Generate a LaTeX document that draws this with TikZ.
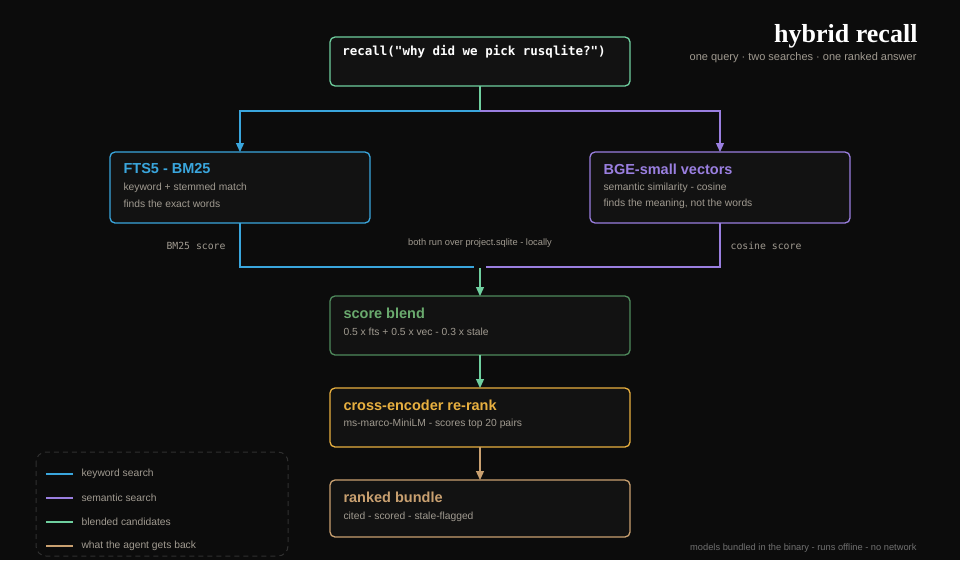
\documentclass[tikz,border=0pt]{standalone}
\usepackage{fontspec}
\setmainfont{Liberation Sans}
\setmonofont{DejaVu Sans Mono}
\newfontfamily\titlefont{Liberation Serif}
\usetikzlibrary{arrows.meta}
\definecolor{bg}{HTML}{0C0C0C}
\definecolor{boxbg}{HTML}{121212}
\definecolor{cgreen}{HTML}{6FCF9F}
\definecolor{cblue}{HTML}{3AA6DD}
\definecolor{cpurple}{HTML}{9A7FE0}
\definecolor{cdgreen}{HTML}{4F8A5C}
\definecolor{tgreen}{HTML}{6AAA6E}
\definecolor{corange}{HTML}{E8B040}
\definecolor{ctan}{HTML}{C9A070}
\definecolor{cgray}{HTML}{A09A90}
\definecolor{cdim}{HTML}{707070}
\begin{document}
\begin{tikzpicture}[x=1pt,y=-1pt,
  box/.style={line width=1.3pt,rounded corners=5pt,fill=boxbg},
  ttl/.style={anchor=west,font=\fontsize{14.5}{16}\selectfont\bfseries},
  sub/.style={anchor=west,font=\fontsize{10.3}{12}\selectfont,text=cgray},
  conn/.style={line width=1.3pt},
  arr/.style={conn,-{Triangle[width=8pt,length=9pt]}},
  lbl/.style={font=\ttfamily\fontsize{9.8}{11}\selectfont,text=cgray}]
\fill[bg] (0,0) rectangle (960,560);
\useasboundingbox (0,0) rectangle (960,560);
% title
\node[anchor=east,text=white,font=\titlefont\bfseries\fontsize{26}{28}\selectfont] (title) at (921,36) {hybrid recall};
\node[anchor=east,text=cgray,font=\fontsize{11}{12}\selectfont] (subt) at (920,58) {one query · two searches · one ranked answer};
% boxes
\draw[box,draw=cgreen] (330,37) rectangle (630,86);
\node[text=white,font=\ttfamily\bfseries\fontsize{12.5}{14}\selectfont] (q) at (474,52) {recall("why did we pick rusqlite?")};
\coordinate (qb) at (480,86);

\draw[box,draw=cblue] (110,152) rectangle (370,223);
\node[ttl,text=cblue] (fts) at (120,169) {FTS5 - BM25};
\node[sub] (fts1) at (120,188) {keyword + stemmed match};
\node[sub] (fts2) at (120,204) {finds the exact words};

\draw[box,draw=cpurple] (590,152) rectangle (850,223);
\node[ttl,text=cpurple] (bge) at (600,169) {BGE-small vectors};
\node[sub] (bge1) at (600,188) {semantic similarity - cosine};
\node[sub] (bge2) at (600,204) {finds the meaning, not the words};

\draw[box,draw=cdgreen] (330,296) rectangle (630,355);
\node[ttl,text=tgreen] (sb) at (340,313) {score blend};
\node[sub] (sb1) at (340,332) {0.5 x fts + 0.5 x vec - 0.3 x stale};

\draw[box,draw=corange] (330,388) rectangle (630,447);
\node[ttl,text=corange] (ce) at (340,405) {cross-encoder re-rank};
\node[sub] (ce1) at (340,424) {ms-marco-MiniLM - scores top 20 pairs};

\draw[box,draw=ctan] (330,480) rectangle (630,537);
\node[ttl,text=ctan] (rb) at (340,497) {ranked bundle};
\node[sub] (rb1) at (340,517) {cited - scored - stale-flagged};

% connectors
\draw[conn,cgreen] (qb) -- (480,111);
\draw[arr,cblue] (480,111) -- (240,111) -- (240,152);
\draw[arr,cpurple] (480,111) -- (720,111) -- (720,152);
\draw[conn,cblue] (240,223) -- (240,267) -- (474,267);
\draw[conn,cpurple] (720,223) -- (720,267) -- (486,267);
\draw[arr,cgreen] (480,268) -- (480,296);
\draw[arr,cgreen] (480,355) -- (480,388);
\draw[arr,ctan] (480,447) -- (480,480);

\node[lbl] (l1) at (196,246) {BM25 score};
\node[lbl] (l2) at (766,246) {cosine score};
\node[text=cgray,font=\fontsize{9.3}{11}\selectfont] (l3) at (480,243) {both run over project.sqlite - locally};

% legend
\draw[dash pattern=on 5pt off 4pt,line width=1pt,color=white!15!bg,rounded corners=10pt] (36,452) rectangle (288,556);
\foreach \c/\t/\y [count=\i] in {cblue/keyword search/474, cpurple/semantic search/498, cgreen/blended candidates/522, ctan/what the agent gets back/546}{
  \draw[line width=1.5pt,\c] (46,\y) -- (73,\y);
  \node[anchor=west,text=cgray,font=\fontsize{10.3}{12}\selectfont] (leg\i) at (78,\y) {\t};
}
\node[anchor=east,text=cdim,font=\fontsize{9.3}{11}\selectfont] (foot) at (920,548) {models bundled in the binary - runs offline - no network};
\end{tikzpicture}
\end{document}
